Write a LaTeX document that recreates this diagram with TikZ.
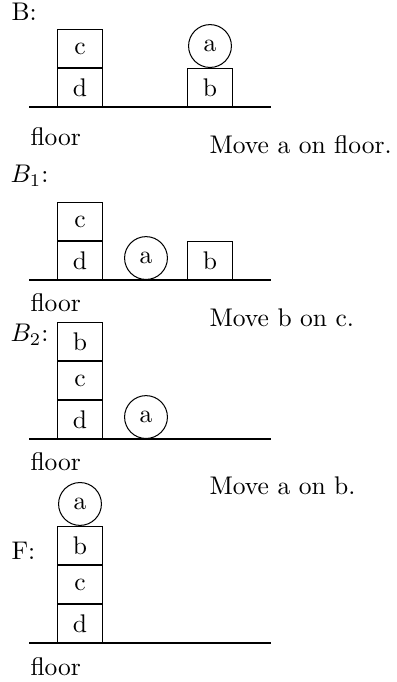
\documentclass[tikz,border=0pt]{standalone}
\usetikzlibrary{positioning}

\begin{document}
\begin{tikzpicture}[x=0.392pt,y=-0.392pt,
    blk/.style={draw, rectangle, minimum width=18pt, minimum height=14.9pt, inner sep=0pt},
    ball/.style={draw, circle, minimum size=16.8pt, inner sep=0pt},
    lbl/.style={anchor=base west, inner sep=0pt}]
  \useasboundingbox (0,0) rectangle (396,682);
  % floors of the four states
  \foreach \y/\n in {107/0, 280/1, 439/2, 643/3} {
    \coordinate (fl\n) at (29,\y);
    \coordinate (fr\n) at (271,\y);
    \draw (fl\n) -- (fr\n);
  }
  % B
  \node[lbl] (nB) at (11,21) {B:};
  \node[blk, anchor=south] (d0) at (80,107) {d};
  \node[blk, above=0pt of d0] (c0) {c};
  \node[blk, anchor=south] (b0) at (210,107) {b};
  \node[ball, above=0pt of b0] (a0) {a};
  \node[lbl] (floor0) at (30,146) {floor};
  \node[lbl] (mv0) at (209,154) {Move a on floor.};
  % B_1
  \node[lbl] (nB1) at (10,183) {$B_1$:};
  \node[blk, anchor=south] (d1) at (80,280) {d};
  \node[blk, above=0pt of d1] (c1) {c};
  \node[ball, anchor=south] (a1) at (146,280) {a};
  \node[blk, anchor=south] (b1) at (210,280) {b};
  \node[lbl] (floor1) at (30,312) {floor};
  \node[lbl] (mv1) at (209,327) {Move b on c.};
  % B_2
  \node[lbl] (nB2) at (10,342) {$B_2$:};
  \node[blk, anchor=south] (d2) at (80,439) {d};
  \node[blk, above=0pt of d2] (c2) {c};
  \node[blk, above=0pt of c2] (b2) {b};
  \node[ball, anchor=south] (a2) at (146,439) {a};
  \node[lbl] (floor2) at (30,470) {floor};
  \node[lbl] (mv2) at (209,494) {Move a on b.};
  % F
  \node[lbl] (nF) at (11,559) {F:};
  \node[blk, anchor=south] (d3) at (80,643) {d};
  \node[blk, above=0pt of d3] (c3) {c};
  \node[blk, above=0pt of c3] (b3) {b};
  \node[ball, above=0pt of b3] (a3) {a};
  \node[lbl] (floor3) at (30,675) {floor};
\end{tikzpicture}
\end{document}
